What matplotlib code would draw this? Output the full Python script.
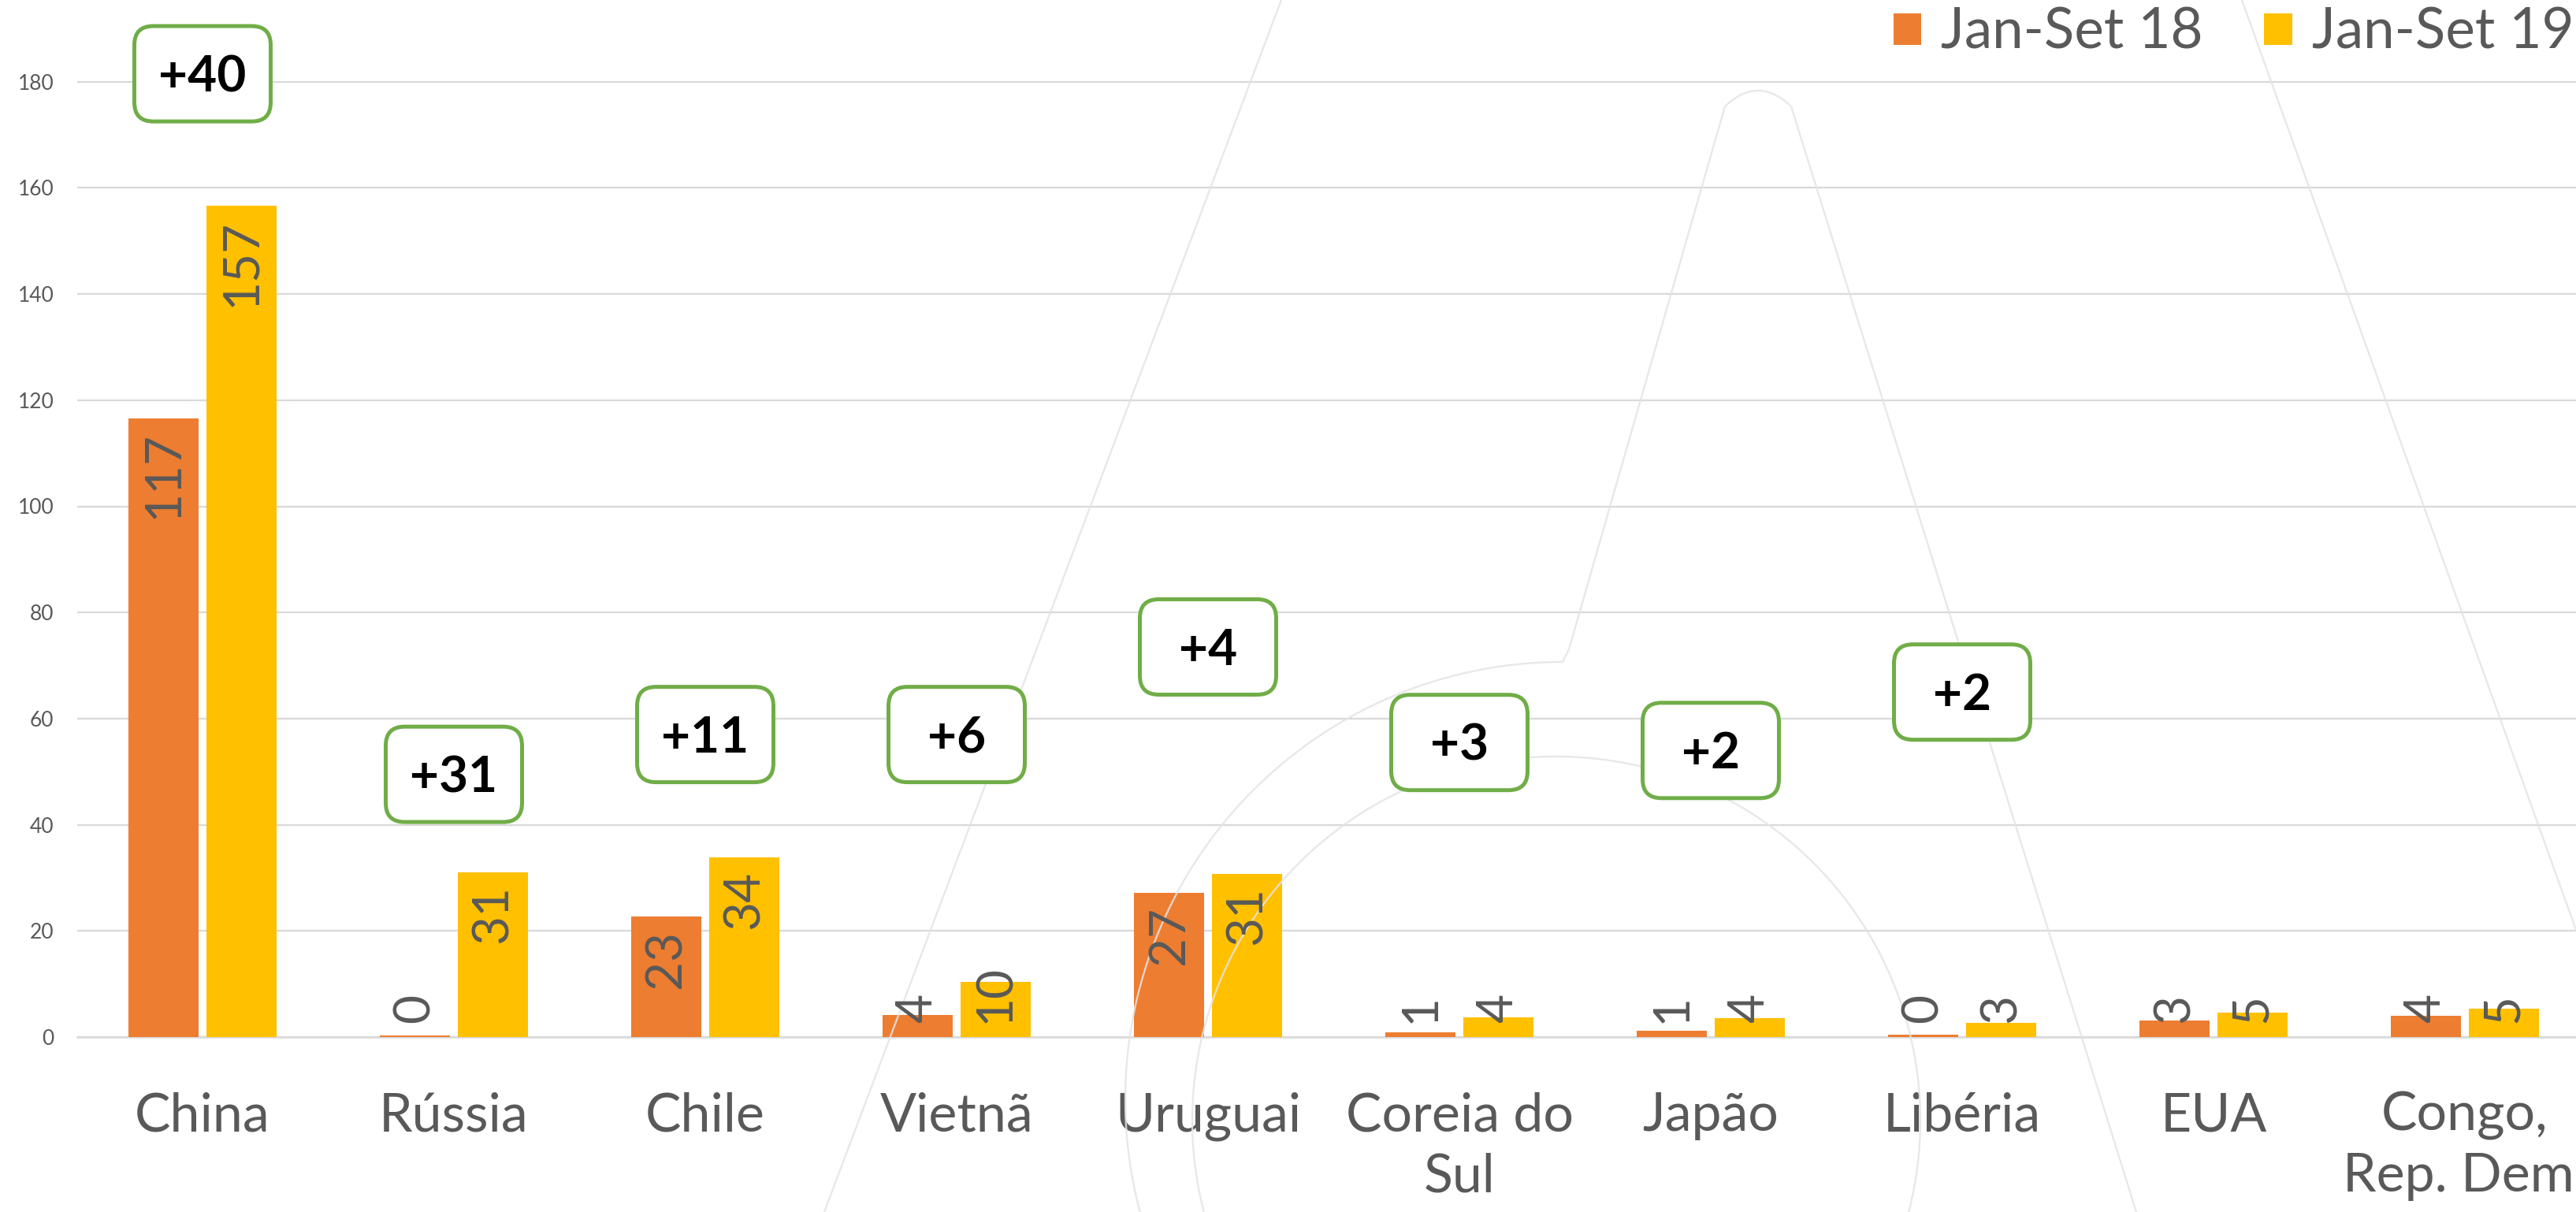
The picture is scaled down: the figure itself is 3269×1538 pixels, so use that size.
import matplotlib
matplotlib.use("Agg")
import matplotlib.pyplot as plt
import numpy as np
from matplotlib.patches import FancyBboxPatch, Patch
from matplotlib.transforms import Affine2D, IdentityTransform

plt.rcParams['font.family'] = ['Lato', 'DejaVu Sans']

# ---------------- data ----------------
categories = ["China", "Rússia", "Chile", "Vietnã", "Uruguai", "Coreia do\nSul",
              "Japão", "Libéria", "EUA", "Congo,\nRep. Dem."]
series_names = ["Jan-Set 18", "Jan-Set 19"]
jan_set_18 = [116.6, 0.3, 22.7, 4.1, 27.2, 0.9, 1.2, 0.4, 3.1, 4.0]
jan_set_19 = [156.6, 31.1, 33.8, 10.4, 30.8, 3.7, 3.6, 2.7, 4.6, 5.3]
diff_labels = ["+40", "+31", "+11", "+6", "+4", "+3", "+2", "+2"]
diff_label_y = [181.5, 49.5, 57.0, 57.0, 73.5, 55.5, 54.0, 65.0]
y_ticks = [0, 20, 40, 60, 80, 100, 120, 140, 160, 180]

# ---------------- style ----------------
W, H, DPI = 3269, 1538, 100
ORANGE, YELLOW, GREEN = "#ED7D31", "#FFC000", "#70AD47"
TXT, GRID = "#595959", "#D9D9D9"

fig = plt.figure(figsize=(W / DPI, H / DPI), dpi=DPI)
fig.patch.set_facecolor("white")

cat_px = 319.0
first_px = 257.0
zero_px = 1316.0
unit_px = 6.735
ymax = 200
left_px = first_px - 0.5 * cat_px
right_px = first_px + (len(categories) - 0.5) * cat_px
ax = fig.add_axes([left_px / W, (H - zero_px) / H,
                   (right_px - left_px) / W, ymax * unit_px / H])
ax.set_facecolor("none")

x = np.arange(len(categories))
bw = 0.279
off = 0.155
bars18 = ax.bar(x - off, jan_set_18, bw, color=ORANGE, zorder=2, label=series_names[0])
bars19 = ax.bar(x + off, jan_set_19, bw, color=YELLOW, zorder=2, label=series_names[1])

ax.set_xlim(-0.5, len(categories) - 0.5)
ax.set_ylim(0, ymax)
ax.set_yticks(y_ticks)
ax.set_xticks(x)
ax.set_xticklabels(categories)
for t in ax.get_xticklabels():
    t.set_linespacing(1.3)
ax.yaxis.grid(True, color=GRID, lw=1.6, zorder=0)
ax.set_axisbelow(True)
for s in ax.spines.values():
    s.set_visible(False)
ax.axhline(0, color=GRID, lw=1.8, zorder=1.5, clip_on=False)
ax.tick_params(axis="both", length=0)
ax.tick_params(axis="y", labelsize=19, labelcolor=TXT, pad=21)
ax.tick_params(axis="x", labelsize=49, labelcolor=TXT, pad=50)

# ---------------- watermark (decorative "A" logo) ----------------
T = Affine2D().scale(1, -1).translate(0, H)
wm = dict(color="#E4E4E4", lw=1.7, transform=T, clip_on=False, zorder=2.5, alpha=0.85,
          solid_capstyle="round")
ax.plot([1626, 1046], [0, 1538], **wm)
ax.plot([2845, 3269], [0, 1180], **wm)
t1 = np.radians(np.linspace(197, 90, 120))
c1x, c1y, r1 = 1983, 1395, 555
ax1x = list(c1x + r1 * np.cos(t1))
ax1y = list(c1y - r1 * np.sin(t1))
apx = [1991, 2189]
apy = [824, 135]
tt = np.linspace(0, 1, 20)
qx = (1 - tt) ** 2 * 2189 + 2 * (1 - tt) * tt * 2231 + tt ** 2 * 2273
qy = (1 - tt) ** 2 * 135 + 2 * (1 - tt) * tt * 95 + tt ** 2 * 135
ax.plot(ax1x + apx + list(qx) + [2711], ax1y + apy + list(qy) + [1538], **wm)
t2 = np.radians(np.linspace(0, 360, 300))
ax.plot(1975 + 462 * np.cos(t2), 1422 - 462 * np.sin(t2), **wm)

# ---------------- bar value labels ----------------
fig.canvas.draw()
renderer = fig.canvas.get_renderer()
pad_top_pt = 12
pad_bot_pt = 13
zero_disp = ax.transData.transform((0, 0))[1]
for bars, vals in ((bars18, jan_set_18), (bars19, jan_set_19)):
    for rect, v in zip(bars, vals):
        cx = rect.get_x() + rect.get_width() / 2
        t = ax.annotate(f"{v:.0f}", xy=(cx, v), xytext=(0, -pad_top_pt),
                        textcoords="offset points", rotation=90, ha="center",
                        va="top", fontsize=46, color=TXT, zorder=3)
        bb = t.get_window_extent(renderer)
        if bb.y0 < zero_disp + pad_bot_pt / 0.72:
            t.xy = (cx, 0)
            t.xyann = (0, pad_bot_pt)
            t.set_va("bottom")

# ---------------- difference boxes ----------------
box_w, box_h, box_r = 173, 121, 24
for i, (lab, yv) in enumerate(zip(diff_labels, diff_label_y)):
    cx, cy = ax.transData.transform((i, yv))
    p = FancyBboxPatch((cx - box_w / 2, cy - box_h / 2), box_w, box_h,
                       boxstyle=f"round,pad=0,rounding_size={box_r}",
                       transform=IdentityTransform(), facecolor="white",
                       edgecolor=GREEN, lw=3.6, zorder=4, clip_on=False)
    ax.add_artist(p)
    ax.annotate(lab, xy=(i, yv), xytext=(0, -3), textcoords="offset points",
                ha="center", va="center", fontsize=46, fontweight="bold",
                color="black", zorder=5, annotation_clip=False)

# ---------------- legend ----------------
handles = [Patch(facecolor=ORANGE), Patch(facecolor=YELLOW)]
fig.legend(handles, series_names, loc="upper right",
           bbox_to_anchor=(3266 / W, 1 - 9 / H), ncol=2, frameon=False,
           fontsize=51, labelcolor=TXT, handlelength=0.5, handleheight=0.5,
           handletextpad=0.35, columnspacing=1.1, borderpad=0, borderaxespad=0)

fig.savefig("out.png", dpi=DPI, facecolor="white")
